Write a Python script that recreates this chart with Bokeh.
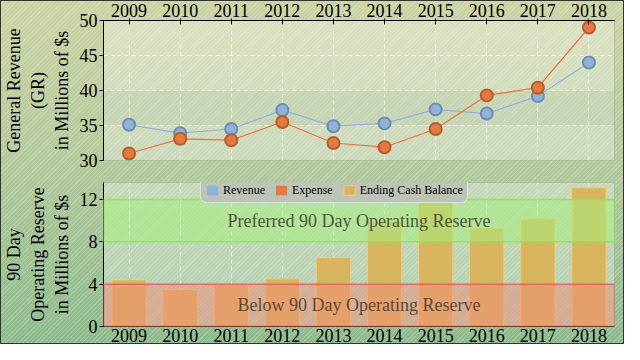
from bokeh.plotting import figure
from bokeh.layouts import column
from bokeh.models import (ColumnDataSource, FactorRange, Range1d, FixedTicker,
                          BoxAnnotation, Label, Legend, LegendItem)
from bokeh.embed import file_html
from bokeh.resources import INLINE

years = ["2009", "2010", "2011", "2012", "2013", "2014", "2015", "2016", "2017", "2018"]
revenue = [35.1, 33.9, 34.5, 37.2, 34.9, 35.3, 37.3, 36.7, 39.2, 44.0]
expense = [31.0, 33.1, 32.9, 35.5, 32.5, 31.9, 34.5, 39.3, 40.4, 49.0]
cash = [4.4, 3.5, 3.9, 4.5, 6.5, 9.9, 12.8, 9.3, 10.2, 13.1]

top_ticks = [30, 35, 40, 45, 50]
bottom_ticks = [0, 4, 8, 12]
preferred_band = (8, 12)
below_band = (0, 4)

FONT = "Liberation Serif"
REV_FILL, REV_LINE, REV_EDGE = "#8fb2d6", "#8db4e0", "#6b8db2"
EXP_FILL, EXP_LINE, EXP_EDGE = "#e27a42", "#e8743b", "#b55d2b"
CASH_FILL, CASH_EDGE = "#d9b25a", "#f2cc78"

W = 624
LEFT, RIGHT = 82, 10

src = ColumnDataSource(dict(year=years, revenue=revenue, expense=expense, cash=cash))


def style(p):
    p.border_fill_alpha = 0
    p.background_fill_color = "white"
    p.background_fill_alpha = 0.3
    p.outline_line_color = "#9fb08f"
    p.outline_line_alpha = 0.6
    for ax in p.xaxis + p.yaxis:
        ax.major_label_text_font = FONT
        ax.major_label_text_font_size = "18px"
        ax.major_label_text_color = "black"
        ax.axis_label_text_font = FONT
        ax.axis_label_text_font_size = "18px"
        ax.axis_label_text_font_style = "normal"
        ax.axis_label_text_color = "black"
        ax.axis_line_color = "black"
        ax.major_tick_line_color = "black"
        ax.minor_tick_line_color = None
        ax.major_label_standoff = 2
    for g in p.xgrid + p.ygrid:
        g.grid_line_color = "white"
        g.grid_line_alpha = 0.7
        g.grid_line_dash = "4 3"


# ---------- top: revenue / expense ----------
p1 = figure(width=W, height=170, x_range=FactorRange(*years),
            y_range=Range1d(30, 50), x_axis_location="above",
            output_backend="svg", toolbar_location=None,
            min_border_left=LEFT, min_border_right=RIGHT,
            min_border_top=4, min_border_bottom=10)
p1.add_layout(BoxAnnotation(bottom=35, top=40, fill_color="#4a6a3a",
                            fill_alpha=0.06, line_color=None, level="underlay"))
p1.line("year", "revenue", source=src, color=REV_LINE, line_width=1.2)
p1.line("year", "expense", source=src, color=EXP_LINE, line_width=1.2)
p1.scatter("year", "revenue", source=src, size=12, fill_color=REV_FILL,
           line_color=REV_EDGE, line_width=2)
p1.scatter("year", "expense", source=src, size=12, fill_color=EXP_FILL,
           line_color=EXP_EDGE, line_width=2)
p1.yaxis.ticker = FixedTicker(ticks=top_ticks)
p1.yaxis.axis_label = "General Revenue\n(GR)\nin Millions of $s"
style(p1)
p1.xaxis.major_tick_in = 4
p1.xaxis.major_tick_out = 2
p1.yaxis.major_tick_in = 0
p1.yaxis.major_tick_out = 4

# ---------- bottom: ending cash balance ----------
p2 = figure(width=W, height=174, x_range=FactorRange(*years),
            y_range=Range1d(0, 13.6),
            output_backend="svg", toolbar_location=None,
            min_border_left=LEFT, min_border_right=RIGHT,
            min_border_top=12, min_border_bottom=4)
bars = p2.vbar(x="year", top="cash", source=src, width=0.67,
               fill_color=CASH_FILL, fill_alpha=0.95,
               line_color=CASH_EDGE, line_width=1)
# zero-height swatch renderers used only for the legend entries of the top chart
rev_sw = p2.vbar(x="year", top=0, source=src, width=0.5,
                 fill_color=REV_FILL, line_color="#a9c3de", line_alpha=0)
exp_sw = p2.vbar(x="year", top=0, source=src, width=0.5,
                 fill_color=EXP_FILL, line_color="#f0a070", line_alpha=0)

p2.add_layout(BoxAnnotation(bottom=preferred_band[0], top=preferred_band[1],
                            fill_color="#a4ee7c", fill_alpha=0.55,
                            line_color="#8fe05a", line_width=1.5, line_alpha=0.9))
p2.add_layout(BoxAnnotation(bottom=below_band[0], top=below_band[1],
                            fill_color="#f28a78", fill_alpha=0.5,
                            line_color="#e06060", line_width=1.5, line_alpha=0.9))
p2.add_layout(Label(x=5, y=(preferred_band[0] + preferred_band[1]) / 2,
                    text="Preferred 90 Day Operating Reserve",
                    text_align="center", text_baseline="middle",
                    text_font=FONT, text_font_size="18px", text_color="#4d5540"))
p2.add_layout(Label(x=5, y=2.0,
                    text="Below 90 Day Operating Reserve",
                    text_align="center", text_baseline="middle",
                    text_font=FONT, text_font_size="18px", text_color="#5a4a3a"))

p2.yaxis.ticker = FixedTicker(ticks=bottom_ticks)
p2.yaxis.axis_label = "90 Day\nOperating Reserve\nin Millions of $s"
style(p2)
p2.xaxis.major_tick_in = 0
p2.xaxis.major_tick_out = 0
p2.yaxis.major_tick_in = 0
p2.yaxis.major_tick_out = 4

legend = Legend(items=[LegendItem(label="Revenue", renderers=[rev_sw]),
                       LegendItem(label="Expense", renderers=[exp_sw]),
                       LegendItem(label="Ending Cash Balance", renderers=[bars])],
                orientation="horizontal", location=(97, 123),
                label_text_font=FONT, label_text_font_size="12px",
                label_text_color="black", glyph_width=14, glyph_height=12,
                label_standoff=4, spacing=9, padding=4, margin=0,
                label_height=16,
                background_fill_color="#bcc2b6", background_fill_alpha=0.95,
                border_line_color="white", border_line_width=1.5,
                border_radius=6)
p2.add_layout(legend, "center")

layout = column(p1, p2, spacing=0, styles={
    "background": ("repeating-linear-gradient(135deg, rgba(255,255,255,0.16) 0px, "
                   "rgba(255,255,255,0.16) 1px, rgba(0,0,0,0) 1px, rgba(0,0,0,0) 3px), "
                   "linear-gradient(to bottom, #cbd3a4 0%, #b4c99c 45%, #8cba8c 100%)"),
    "box-shadow": "inset 0 0 0 1px #333",
})

with open("out.html", "w") as f:
    f.write(file_html(layout, INLINE))
